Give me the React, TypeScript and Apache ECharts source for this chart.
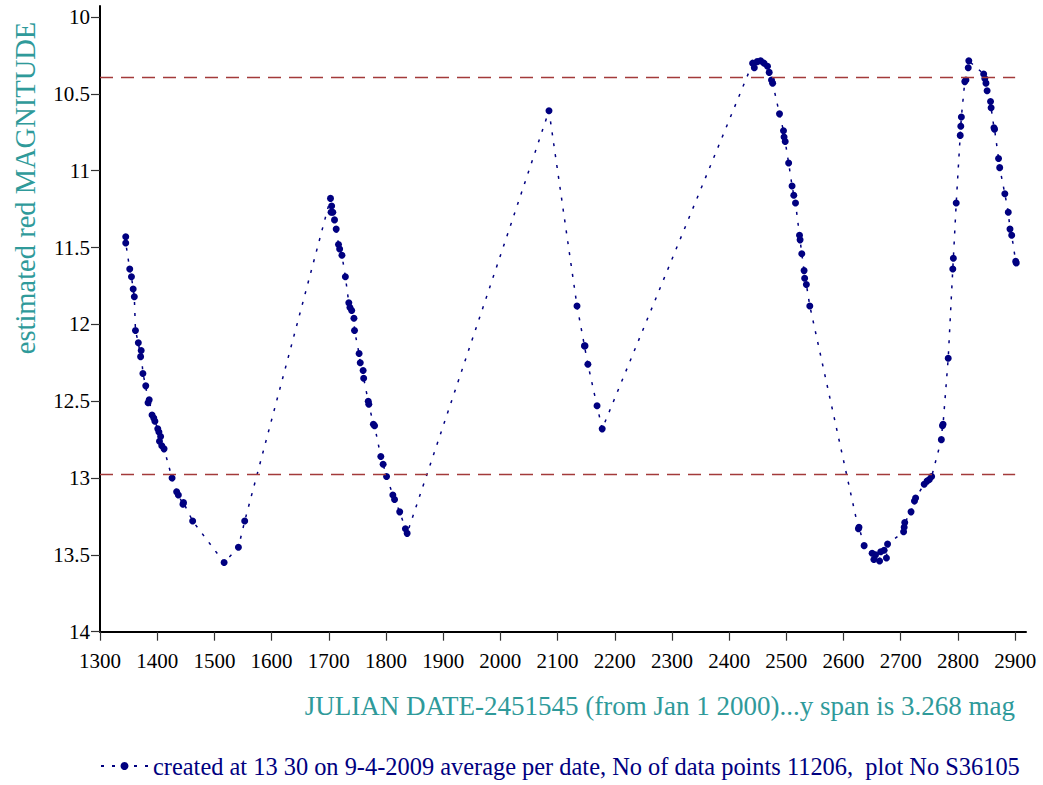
import React, { useEffect, useRef } from "react";
import * as echarts from "echarts";

// Julian date - 2451545 and estimated red magnitude (average per date)
const julianDates: number[] = [
  1345, 1345, 1352, 1355, 1358, 1360, 1362, 1367, 1371, 1372, 1375, 1380, 1384, 1386, 1391, 1394,
  1396, 1401, 1403, 1404, 1406, 1408, 1412, 1426, 1434, 1437, 1445, 1446, 1462, 1517, 1542, 1553,
  1703, 1704, 1705, 1707, 1710, 1713, 1717, 1719, 1723, 1729, 1735, 1737, 1740, 1744, 1745, 1753,
  1755, 1760, 1761, 1769, 1770, 1778, 1780, 1791, 1795, 1801, 1812, 1815, 1824, 1834, 1837,
  2085, 2134, 2147, 2148, 2153, 2169, 2178,
  2441, 2444, 2449, 2455, 2461, 2467, 2470, 2474, 2476, 2488, 2495, 2496, 2498, 2504, 2510, 2513,
  2516, 2523, 2524, 2527, 2531, 2532, 2535, 2541,
  2626, 2627, 2636, 2650, 2653, 2656, 2663, 2665, 2671, 2675, 2677, 2705, 2706, 2707, 2718, 2724,
  2726, 2741, 2746, 2750, 2754, 2771, 2773, 2774, 2783, 2791, 2792, 2797, 2804, 2805, 2806, 2812,
  2814, 2818, 2819, 2845, 2847, 2849, 2851, 2857, 2858, 2863, 2864, 2871, 2873, 2882, 2888, 2891,
  2894, 2901, 2902,
];
const magnitudes: number[] = [
  11.43, 11.47, 11.64, 11.69, 11.77, 11.82, 12.04, 12.12, 12.21, 12.17, 12.32, 12.40, 12.51, 12.49, 12.59, 12.61,
  12.63, 12.68, 12.70, 12.76, 12.73, 12.79, 12.81, 13.00, 13.09, 13.11, 13.17, 13.16, 13.28, 13.55, 13.45, 13.28,
  11.18, 11.27, 11.23, 11.27, 11.32, 11.38, 11.48, 11.51, 11.55, 11.69, 11.86, 11.89, 11.91, 11.96, 12.04, 12.19,
  12.25, 12.30, 12.35, 12.50, 12.52, 12.65, 12.66, 12.86, 12.91, 12.99, 13.11, 13.14, 13.22, 13.33, 13.36,
  10.61, 11.88, 12.14, 12.14, 12.26, 12.53, 12.68,
  10.30, 10.33, 10.29, 10.285, 10.30, 10.32, 10.36, 10.41, 10.43, 10.63, 10.74, 10.78, 10.81, 10.95, 11.10, 11.16,
  11.21, 11.42, 11.45, 11.54, 11.65, 11.70, 11.74, 11.88,
  13.33, 13.32, 13.44, 13.49, 13.53, 13.50, 13.54, 13.48, 13.47, 13.52, 13.43, 13.35, 13.32, 13.29, 13.22, 13.15,
  13.13, 13.04, 13.02, 13.01, 12.99, 12.75, 12.66, 12.65, 12.22, 11.64, 11.57, 11.21, 10.77, 10.71, 10.65, 10.42,
  10.41, 10.33, 10.285, 10.37, 10.40, 10.43, 10.48, 10.55, 10.59, 10.72, 10.73, 10.92, 10.98, 11.15, 11.27, 11.38,
  11.42, 11.59, 11.60,
];

const xTicks: number[] = [1300, 1400, 1500, 1600, 1700, 1800, 1900, 2000, 2100, 2200, 2300, 2400, 2500, 2600, 2700, 2800, 2900];
const yTicks: number[] = [10, 10.5, 11, 11.5, 12, 12.5, 13, 13.5, 14];
const refLevels: number[] = [10.389, 12.975];

const seriesName = "created at 13 30 on 9-4-2009 average per date, No of data points 11206,  plot No S36105";
const yTitle = "estimated red MAGNITUDE";
const xTitle = "JULIAN DATE-2451545 (from Jan 1 2000)...y span is 3.268 mag";

const SERIF = "Liberation Serif, Times New Roman, serif";
const NAVY = "#000080";
const TEAL = "#2f9a9a";

export default function App() {
  const ref = useRef<HTMLDivElement>(null);
  useEffect(() => {
    if (!ref.current) return;
    const chart = echarts.init(ref.current, undefined, { renderer: "svg" });
    const data = julianDates.map((x, i) => [x, magnitudes[i]]);
    chart.setOption({
      animation: false,
      backgroundColor: "#ffffff",
      textStyle: { fontFamily: SERIF },
      grid: { left: 100, right: 17, top: 6, bottom: 153.3, containLabel: false },
      legend: {
        show: true,
        left: 100,
        top: 754,
        padding: 0,
        itemWidth: 47,
        itemHeight: 10,
        itemGap: 5,
        textStyle: { fontFamily: SERIF, fontSize: 24.4, color: NAVY },
        data: [seriesName],
      },
      xAxis: {
        type: "value",
        min: 1300,
        max: 2919,
        axisLine: { show: true, lineStyle: { color: "#000", width: 2 } },
        axisTick: { show: true, length: 9, customValues: xTicks, lineStyle: { color: "#333", width: 1.2 } },
        axisLabel: {
          show: true,
          customValues: xTicks,
          formatter: (v: number) => String(v),
          margin: 19,
          fontFamily: SERIF,
          fontSize: 21,
          color: "#000",
        },
        splitLine: { show: false },
      },
      yAxis: {
        type: "value",
        inverse: true,
        min: 9.928,
        max: 14,
        axisLine: { show: true, lineStyle: { color: "#000", width: 2 } },
        axisTick: { show: true, length: 9, customValues: yTicks, lineStyle: { color: "#333", width: 1.2 } },
        axisLabel: {
          show: true,
          customValues: yTicks,
          formatter: (v: number) => String(v),
          margin: 10,
          fontFamily: SERIF,
          fontSize: 21,
          color: "#000",
        },
        splitLine: { show: false },
      },
      graphic: [
        {
          type: "text",
          x: 25,
          y: 188,
          rotation: Math.PI / 2,
          style: {
            text: yTitle,
            fontFamily: SERIF,
            fontSize: 28.5,
            fill: TEAL,
            textAlign: "center",
            textVerticalAlign: "middle",
          },
        },
        {
          type: "text",
          x: 1015,
          y: 706,
          style: {
            text: xTitle,
            fontFamily: SERIF,
            fontSize: 27,
            fill: TEAL,
            textAlign: "right",
            textVerticalAlign: "middle",
          },
        },
      ],
      series: [
        {
          name: seriesName,
          type: "line",
          data,
          symbol: "circle",
          symbolSize: 7,
          showSymbol: true,
          itemStyle: { color: NAVY },
          lineStyle: { color: NAVY, width: 1.5, type: [3, 8] },
          markLine: {
            silent: true,
            symbol: "none",
            label: { show: false },
            lineStyle: { color: "#a33a3a", width: 1.3, type: [13, 8] },
            data: refLevels.map((v) => [
              { coord: [xTicks[0], v] },
              { coord: [xTicks[xTicks.length - 1], v] },
            ]),
          },
        },
      ],
    });
    return () => chart.dispose();
  }, []);
  return (
    <div
      ref={ref}
      style={{ position: "absolute", left: 0, top: 0, width: 1043, height: 785, background: "#fff" }}
    />
  );
}
